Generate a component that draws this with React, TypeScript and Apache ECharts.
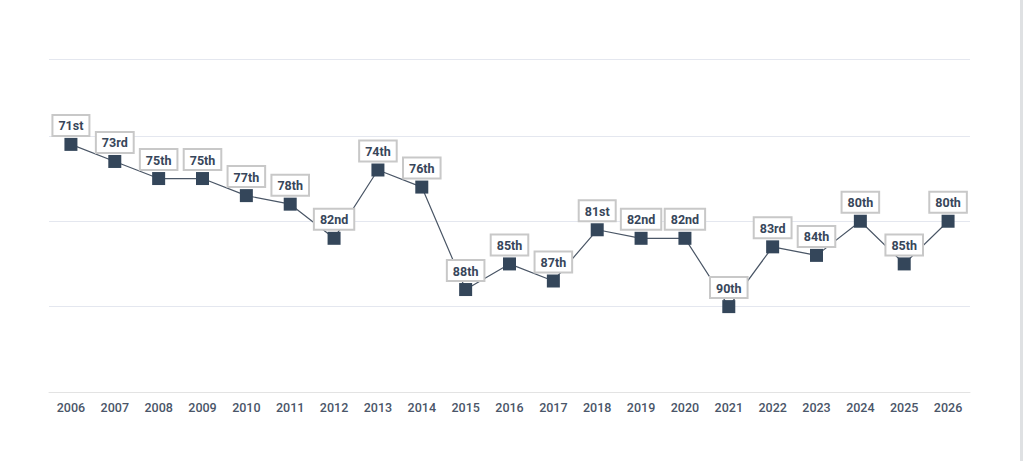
import React, { useEffect, useRef } from "react";
import * as echarts from "echarts";

const years = ["2006","2007","2008","2009","2010","2011","2012","2013","2014","2015","2016","2017","2018","2019","2020","2021","2022","2023","2024","2025","2026"];
const ranks = [71,73,75,75,77,78,82,74,76,88,85,87,81,82,82,90,83,84,80,85,80];
const gridValues = [61, 70, 80, 90];

function ordinal(n: number): string {
  const m100 = n % 100;
  if (m100 >= 11 && m100 <= 13) return n + "th";
  const m = n % 10;
  if (m === 1) return n + "st";
  if (m === 2) return n + "nd";
  if (m === 3) return n + "rd";
  return n + "th";
}

export default function App() {
  const ref = useRef<HTMLDivElement>(null);
  useEffect(() => {
    if (!ref.current) return;
    const chart = echarts.init(ref.current, null, { renderer: "svg" });
    chart.setOption({
      animation: false,
      backgroundColor: "#ffffff",
      grid: { left: 49, right: 54, top: 59, bottom: 69 },
      xAxis: {
        type: "category",
        data: years,
        boundaryGap: true,
        axisLine: { show: true, onZero: false, lineStyle: { color: "#e3e3e3", width: 1 } },
        axisTick: { show: false },
        axisLabel: { color: "#4a5568", fontSize: 12.5, fontWeight: 500, fontFamily: "Roboto", margin: 9 },
      },
      yAxis: {
        type: "value",
        inverse: true,
        min: 61,
        max: 100,
        axisLine: { show: false },
        axisTick: { show: false },
        axisLabel: { show: false },
        splitLine: { show: false },
      },
      graphic: [
        { type: "rect", shape: { x: 1020, y: 0, width: 3, height: 461 }, style: { fill: "#dfe1e3" } },
      ],
      series: [
        {
          type: "line",
          data: ranks,
          symbol: "rect",
          symbolSize: 13,
          itemStyle: { color: "#34465a" },
          lineStyle: { color: "#4a5666", width: 1.2 },
          label: {
            show: true,
            position: "top",
            distance: 3,
            formatter: (p: any) => ordinal(p.value),
            color: "#37465a",
            fontFamily: "Roboto",
            fontWeight: "bold",
            fontSize: 12.5,
            lineHeight: 14,
            backgroundColor: "#ffffff",
            borderColor: "#c8c8c8",
            borderWidth: 2,
            padding: [3, 5, 2, 5],
          },
          markLine: {
            silent: true,
            symbol: "none",
            label: { show: false },
            lineStyle: { color: "#e4e7ef", type: "solid", width: 1 },
            data: gridValues.map((v) => ({ yAxis: v })),
            z: 0,
          },
        },
      ],
    });
    return () => chart.dispose();
  }, []);
  return <div ref={ref} style={{ width: 1024, height: 461, position: "absolute", left: 0, top: 0 }} />;
}
